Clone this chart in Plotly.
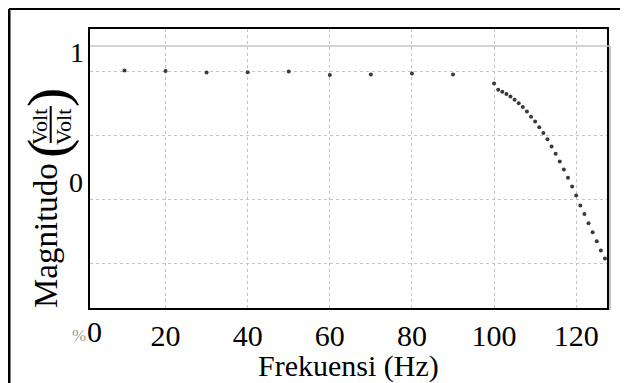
import plotly.graph_objects as go

# ---- data ----
freq_flat = [10, 20, 30, 40, 50, 60, 70, 80, 90]
mag_flat = [0.804, 0.803, 0.798, 0.799, 0.801, 0.790, 0.792, 0.795, 0.792]

freq_roll = [100, 101, 102, 103, 104, 105, 106, 107, 108, 109, 110, 111, 112, 113,
             114, 115, 116, 117, 118, 119, 120, 121, 122, 123, 124, 125, 126, 127]
mag_roll = [0.764, 0.744, 0.738, 0.731, 0.723, 0.713, 0.702, 0.690, 0.676, 0.660,
            0.645, 0.627, 0.609, 0.590, 0.567, 0.544, 0.520, 0.495, 0.469, 0.442,
            0.414, 0.383, 0.356, 0.327, 0.299, 0.271, 0.242, 0.217]

x_ticks = [20, 40, 60, 80, 100, 120]
y_grid = [0.2, 0.4, 0.6, 0.8]

# the page body adds an 8px margin, so the figure is drawn 8px smaller and
# all reference pixel positions are shifted by OFF
OFF = 8
W, H = 628 - OFF, 383 - OFF
L, R, T, B = 90 - OFF, 607 - OFF, 29 - OFF, 308 - OFF
SERIF = "Liberation Serif, Times New Roman, serif"


def px(x):
    return (x - OFF - L) / (R - L)


def py(y):
    return (B - (y - OFF)) / (B - T)


fig = go.Figure()
fig.add_trace(go.Scatter(x=freq_flat + freq_roll, y=mag_flat + mag_roll, mode="markers",
                         marker=dict(size=4, color="#3a3a3a"), showlegend=False,
                         hoverinfo="x+y"))

fig.update_layout(
    width=W, height=H,
    margin=dict(l=L, r=W - R, t=T, b=H - B, pad=0),
    paper_bgcolor="white", plot_bgcolor="white",
    font=dict(family=SERIF, color="black"),
    xaxis=dict(range=[1.6, 127.5], tickvals=x_ticks, ticktext=[str(v) for v in x_ticks],
               showgrid=True, gridcolor="#c4c4c4", griddash="dot", gridwidth=1,
               zeroline=False, showline=True, linecolor="black", linewidth=2, mirror=True,
               ticks="", tickfont=dict(family=SERIF, size=30, color="black")),
    yaxis=dict(range=[0.0625, 0.934], tickvals=y_grid, showticklabels=False,
               showgrid=True, gridcolor="#c4c4c4", griddash="dot", gridwidth=1,
               zeroline=False, showline=True, linecolor="black", linewidth=2, mirror=True,
               ticks=""),
)

shapes = []
# outer frame (left and top edges)
shapes.append(dict(type="line", xref="paper", yref="paper", x0=px(9), x1=px(700),
                   y0=py(9), y1=py(9), line=dict(color="black", width=2)))
shapes.append(dict(type="line", xref="paper", yref="paper", x0=px(9), x1=px(9),
                   y0=py(9), y1=py(420), line=dict(color="black", width=3)))
# gray secondary box lines
shapes.append(dict(type="line", xref="paper", yref="paper", x0=0, x1=px(610),
                   y0=py(46), y1=py(46), line=dict(color="#c4c4c4", width=1.5)))
shapes.append(dict(type="line", xref="paper", yref="paper", x0=px(610), x1=px(610),
                   y0=py(46), y1=py(310), line=dict(color="#c4c4c4", width=2)))
# fraction bar
shapes.append(dict(type="line", xref="paper", yref="paper", x0=px(50.7), x1=px(50.7),
                   y0=py(106), y1=py(143), line=dict(color="black", width=2)))
fig.update_layout(shapes=shapes)


def ann(text, x, y, size, angle=0, color="black"):
    fig.add_annotation(text=text, xref="paper", yref="paper", x=px(x), y=py(y),
                       xanchor="center", yanchor="middle", showarrow=False,
                       textangle=angle, font=dict(family=SERIF, size=size, color=color))


ann("1", 77, 52, 28)
ann("0", 75.5, 182.5, 28)
ann("0", 94, 331, 30)
ann("%", 79, 335, 17, color="#999999")
ann("Frekuensi (Hz)", 348, 366, 30)
ann("Magnitudo", 46, 236, 33, angle=-90)
ann("(", 47, 149, 58, angle=-90)
ann(")", 47, 98, 58, angle=-90)
ann("Volt", 39, 127, 22, angle=-90)
ann("Volt", 63, 127, 22, angle=-90)

fig.write_html("out.html")
